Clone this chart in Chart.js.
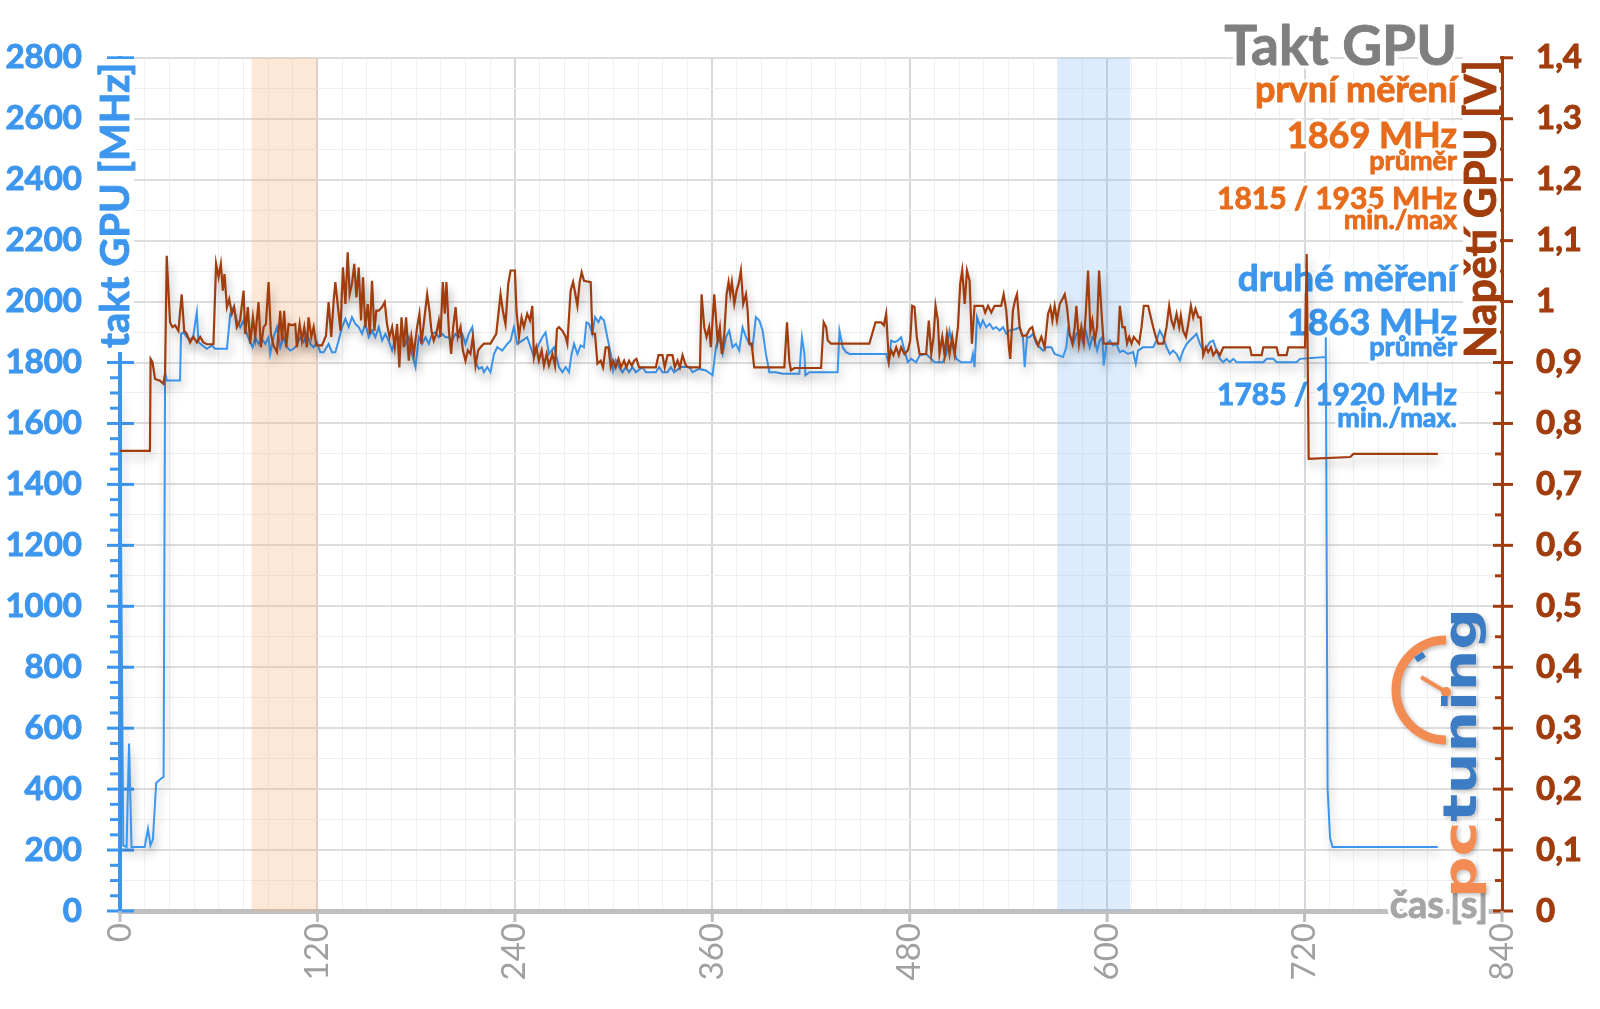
<!DOCTYPE html>
<html>
<head>
<meta charset="utf-8">
<script src="https://cdn.jsdelivr.net/npm/chart.js@4.4.1/dist/chart.umd.min.js"></script>
<style>
  html, body { margin: 0; padding: 0; background: #fff; }
</style>
</head>
<body>
<canvas id="gpuChart" width="1600" height="1009"></canvas>
<script>
// --- data ---
// takt GPU, druhé měření: [čas s, MHz]
const clockSeries = [
  [0,1710],[2,215],[4,210],[5.5,550],[7,210],[15,210],[17,270],[18.5,215],[20,235],[22,420],[25,435],[26.5,440],
  [27.4,1768],[28.4,1741],[36.5,1741],[37.1,1894],[38.6,1899],[40.6,1883],[42.6,1872],[44.6,1888],[46.7,1965],
  [47.7,1867],[50.1,1856],[52.8,1845],[55.8,1856],[57.8,1845],[65,1845],[67,1959],[69,1981],[71,1938],[73,1916],
  [75.1,1938],[77.1,1894],[79.1,1867],[80.6,1850],[82.2,1883],[84.2,1861],[86.2,1878],[88.3,1861],[90.3,1883],
  [91.3,1828],[93.3,1883],[95.4,1916],[97.4,1850],[99.4,1883],[101.5,1850],[103.5,1839],[105.5,1845],[107.5,1856],
  [109.6,1883],[111.6,1867],[113.6,1894],[115.7,1861],[117.7,1850],[119.7,1867],[121.7,1834],[123.8,1834],
  [126.8,1861],[128.8,1834],[130.9,1834],[132.9,1872],[135,1916],[137,1943],[139,1916],[141,1949],[143,1927],
  [145.1,1916],[147.1,1894],[149.1,1927],[151.2,1883],[153.2,1905],[155.2,1883],[157.3,1916],[159.3,1872],
  [161.3,1894],[163.3,1872],[165.4,1839],[167.4,1883],[169.4,1872],[171.5,1905],[173.5,1861],[175.5,1883],
  [177.5,1828],[179.6,1785],[181.6,1883],[183.6,1861],[185.7,1883],[187.7,1861],[189.7,1894],[191.7,1899],
  [193.8,1883],[195.8,1894],[197.8,1883],[199.9,1883],[201.9,1872],[203.9,1894],[206,1883],[208,1894],[210,1861],
  [212,1894],[214.1,1916],[215.7,1807],[218.1,1779],[220.1,1785],[221.2,1768],[223.2,1785],[225.2,1768],
  [227.3,1828],[229.3,1850],[232.3,1839],[235.4,1861],[237.4,1872],[239.4,1916],[241.5,1861],[244.5,1872],
  [247.5,1883],[249.6,1850],[251.6,1818],[254.6,1861],[256.7,1883],[258.7,1899],[260.7,1828],[263.8,1850],
  [265.8,1807],[266.8,1785],[268.9,1768],[270.9,1785],[272.9,1768],[274.5,1828],[276,1861],[278,1828],[280,1856],
  [282,1850],[283.5,1932],[285.1,1927],[287.1,1894],[288.7,1949],[290.8,1932],[292.2,1949],[294.2,1938],
  [296.2,1883],[298.3,1828],[299.7,1774],[301.3,1807],[303.4,1785],[305.4,1768],[307.4,1785],[309.4,1768],
  [311.5,1785],[313.5,1768],[317.6,1785],[319.6,1768],[325.7,1768],[327.7,1785],[329.7,1768],[332.8,1768],
  [334.8,1785],[336.8,1768],[340.9,1785],[346,1785],[348,1768],[352,1779],[356.1,1774],[360.2,1758],[362.2,1850],
  [364.2,1883],[366.3,1828],[368.3,1883],[370.3,1905],[372.3,1850],[374.4,1861],[376.4,1839],[378.4,1916],
  [380.5,1883],[382.5,1861],[384.5,1850],[386.5,1949],[388.6,1938],[390.6,1905],[392.6,1828],[394.7,1768],
  [398.7,1768],[402.8,1763],[412.9,1763],[414.5,1883],[416,1828],[416.6,1758],[419,1768],[436.2,1768],
  [437.3,1905],[439.3,1850],[441.3,1834],[443.4,1828],[465.7,1828],[467.3,1796],[468.7,1872],[470.7,1867],
  [472.8,1872],[474.8,1883],[476.8,1839],[478.9,1801],[480.9,1812],[483.9,1801],[486,1823],[490,1828],
  [493.1,1812],[495.1,1801],[500.2,1801],[502.2,1828],[504.2,1905],[506.3,1850],[508.3,1812],[511.3,1801],
  [517.4,1801],[518.4,1828],[519.4,1785],[520.9,1949],[522.9,1916],[524.5,1938],[526.5,1916],[528.6,1927],
  [530.6,1910],[532.6,1916],[534.6,1905],[536.7,1916],[538.7,1894],[540.7,1905],[544.8,1910],[546.8,1916],
  [548.8,1883],[549.9,1785],[551.3,1883],[552.9,1883],[554.9,1894],[557,1861],[559,1850],[561,1839],[563,1850],
  [566.1,1850],[568.1,1828],[573.2,1818],[575.2,1850],[576.2,1905],[577.6,1883],[579.3,1861],[581.3,1894],
  [583.3,1905],[585,1872],[586.4,1916],[587.8,1883],[589.4,1850],[591,1883],[592.5,1872],[593.9,1839],
  [595.5,1872],[597.1,1883],[597.9,1790],[599.6,1861],[601.6,1872],[603.6,1856],[605.6,1861],[607.7,1834],
  [609.7,1839],[612.7,1828],[615.8,1834],[617.4,1796],[618.8,1839],[621.9,1850],[628,1850],[630,1872],
  [632,1905],[634.1,1883],[636.1,1850],[638.1,1828],[640.1,1839],[642.2,1828],[644.2,1807],[646.2,1839],
  [648.3,1861],[650.3,1872],[652.3,1883],[654.3,1894],[656.4,1861],[658.4,1839],[660.4,1850],[662.5,1867],
  [664.5,1872],[666.5,1839],[668.5,1812],[670.6,1801],[672.6,1812],[674.6,1801],[676.7,1812],[678.7,1801],
  [694.9,1801],[697,1812],[701,1812],[703,1801],[715.2,1801],[717.2,1812],[732.5,1818],[732.9,1883],
  [734,400],[735.5,240],[737,210],[801,210]
];

// napětí GPU: [čas s, V]
const voltSeries = [
  [0,0.755],[18.2,0.755],[18.6,0.906],[19.7,0.901],[21.3,0.873],[24.3,0.870],[26.4,0.865],[27.4,0.882],
  [28.4,1.075],[30.4,0.966],[31.9,0.958],[33.5,0.961],[35.5,0.952],[37.5,1.012],[39,0.952],[40.6,0.947],
  [42.6,0.933],[44.6,0.942],[46.7,0.933],[48.7,0.942],[50.7,0.933],[52.8,0.930],[56.8,0.930],[58.4,1.062],
  [59.9,1.040],[61.3,1.062],[62.5,1.018],[63.5,1.045],[65,0.991],[66.4,1.004],[68,0.980],[69.4,0.991],
  [71,0.958],[73,0.969],[75.1,1.018],[76.1,0.947],[77.7,0.991],[79.1,0.931],[80.8,0.974],[82.2,0.942],
  [84.2,0.999],[85.6,0.925],[87.3,0.958],[88.7,0.963],[90.3,1.032],[91.7,0.947],[93.3,0.928],[95.4,0.917],
  [97.4,0.985],[98.4,0.936],[99.8,0.985],[101,0.925],[102.5,0.963],[104.5,0.961],[106.5,0.963],[107.5,0.925],
  [109.2,0.963],[110.6,0.936],[112,0.958],[113.6,0.925],[114.6,0.974],[116.3,0.942],[117.7,0.958],[119.3,0.928],
  [122.8,0.928],[125.2,0.944],[126.8,0.999],[128.4,0.942],[129.9,1.002],[130.9,1.032],[132.5,0.991],[134,0.952],
  [135.5,1.056],[137,0.996],[138.4,1.081],[139.6,1.012],[141,1.029],[142.4,1.062],[143.7,1.007],[145.1,1.056],
  [146.5,0.969],[147.7,1.040],[149.1,0.958],[150.6,0.996],[151.8,0.947],[153.2,1.034],[154.6,0.952],
  [155.8,0.985],[157.3,0.985],[159.3,0.991],[160.9,0.999],[162.3,0.963],[163.8,0.942],[165.4,0.958],
  [167,0.925],[168.4,0.963],[169.8,0.892],[171.1,0.974],[172.5,0.925],[173.9,0.974],[175.5,0.903],
  [177.1,0.942],[178.6,0.914],[180.6,0.958],[182,0.980],[183.2,0.931],[184.6,0.963],[186.7,1.012],
  [188.1,0.985],[189.3,0.952],[190.7,0.936],[192.2,0.947],[193.8,0.969],[194.8,0.942],[196.2,1.032],
  [197.4,0.980],[198.4,1.032],[199.9,0.952],[201.3,0.914],[202.5,0.958],[204,0.991],[205.3,0.942],[207,0.958],
  [208.4,0.920],[210,0.903],[211.4,0.920],[213,0.914],[214.5,0.942],[216.1,0.895],[217.7,0.920],[219.1,0.925],
  [221.2,0.931],[225.2,0.931],[228.7,0.947],[231.3,1.012],[232.7,0.985],[234.3,0.963],[236,1.029],[237.4,1.051],
  [240,1.051],[241,0.985],[242.5,0.942],[244.1,0.974],[245.5,0.958],[247.5,0.980],[249.2,0.969],[250.6,0.993],
  [251.6,0.909],[253,0.925],[254.6,0.903],[256.3,0.920],[257.7,0.895],[259.3,0.914],[260.7,0.895],[262.8,0.914],
  [264.4,0.895],[265.6,0.955],[266.8,0.958],[268.9,0.952],[270.9,0.942],[271.9,0.931],[273.9,1.018],
  [275.4,1.032],[276.6,1.015],[278,0.993],[279.4,1.032],[280.6,1.048],[282,1.034],[286.1,1.032],[287.1,0.947],
  [288.7,0.947],[290.2,0.898],[292.2,0.903],[293.6,0.892],[295.2,0.925],[296.9,0.925],[298.3,0.892],
  [299.7,0.903],[301.3,0.892],[303,0.906],[304.4,0.892],[306.4,0.903],[307.8,0.892],[309.4,0.903],[311.1,0.895],
  [312.5,0.903],[313.9,0.906],[315.5,0.892],[325.7,0.892],[327.3,0.912],[329.7,0.912],[331.1,0.892],
  [332.8,0.912],[335.8,0.912],[337.2,0.892],[338.9,0.903],[340.3,0.892],[341.9,0.912],[343.9,0.895],
  [345.6,0.892],[352.5,0.892],[353.5,1.012],[355.1,0.958],[356.5,0.942],[358.1,0.958],[359.1,0.925],
  [361.2,1.012],[363.2,0.936],[364.6,0.958],[365.8,0.914],[367.3,0.947],[368.7,1.012],[369.9,1.032],
  [370.9,1.012],[371.9,1.032],[373.4,0.996],[374.8,1.018],[376,1.029],[377.4,1.051],[378.8,0.996],[380.5,1.012],
  [381.5,0.985],[382.5,0.931],[383.9,0.931],[385.5,0.892],[403.8,0.892],[405.4,0.966],[406.8,0.903],
  [407.8,0.887],[409.9,0.891],[426.1,0.891],[427.7,0.966],[429.2,0.958],[430.2,0.936],[432.2,0.931],
  [455.5,0.931],[459.2,0.966],[462.6,0.966],[464.3,0.961],[465.7,0.980],[467.3,0.903],[468.7,0.920],
  [470.1,0.912],[471.8,0.925],[473.4,0.912],[474.8,0.925],[476.8,0.914],[478.9,0.920],[480.3,0.936],
  [481.5,0.993],[482.9,0.991],[484.3,0.942],[486,0.914],[490,0.914],[491.6,0.969],[493.1,0.914],[494.5,0.942],
  [495.7,0.993],[497.1,0.969],[498.1,0.914],[499.8,0.942],[501.2,0.912],[502.6,0.947],[504.2,0.914],
  [505.8,0.942],[507.3,0.914],[509.3,0.958],[510.7,1.029],[511.9,1.051],[513.4,0.996],[514.8,1.051],
  [516.4,1.034],[517.8,0.931],[519.4,0.993],[524.5,0.993],[525.9,0.982],[527.6,0.993],[529.6,0.982],
  [531.6,0.993],[535.6,0.993],[537.1,1.012],[538.7,0.985],[540.3,0.925],[541.1,0.906],[542.7,0.985],
  [544.2,1.004],[545.2,1.012],[546.8,0.958],[548.4,0.944],[550.9,0.944],[552.9,0.955],[554.5,0.958],
  [555.9,0.942],[558,0.928],[560,0.942],[562,0.925],[564.1,0.980],[565.5,0.991],[566.7,0.969],[568.1,0.993],
  [569.5,0.969],[571.2,0.996],[572.8,1.004],[574.2,1.012],[575.6,0.991],[577.2,0.947],[578.9,0.931],
  [580.3,0.958],[581.3,0.993],[582.9,0.931],[584.3,0.958],[585.8,0.933],[587,0.980],[588.4,1.051],
  [589.8,0.952],[591,0.969],[592.5,0.936],[593.9,0.958],[595.1,1.051],[596.5,0.985],[597.9,0.931],
  [606.7,0.931],[607.7,0.993],[609.3,0.958],[610.7,0.958],[612.1,0.931],[613.4,0.942],[614.8,0.931],
  [616.2,0.942],[619.4,0.931],[620.9,0.958],[622.3,0.993],[624.9,0.993],[626.3,0.977],[628,0.958],[629.6,0.942],
  [631,0.931],[634.1,0.931],[636.1,0.958],[637.7,0.993],[639.1,0.969],[640.5,0.958],[642.2,0.980],[643.8,0.958],
  [644.8,0.977],[646.2,0.952],[647.9,0.942],[649.3,0.963],[650.9,0.993],[652.3,0.974],[653.7,0.988],
  [655.4,0.974],[656.8,0.974],[658.4,0.912],[660,0.925],[661.4,0.917],[663.1,0.925],[664.5,0.912],[666.5,0.920],
  [668.5,0.912],[670.6,0.925],[686.8,0.925],[687.8,0.912],[693.9,0.912],[694.9,0.925],[703,0.925],[704.1,0.912],
  [709.1,0.912],[710.1,0.925],[720.3,0.925],[721.3,1.078],[722.5,0.742],[747.7,0.745],[749.7,0.750],[801,0.750]
];

// vyznačené úseky měření [od, do] v sekundách
const firstBand = [80, 120];
const secondBand = [570, 614];

// popisky os
const timeLabels = [0, 120, 240, 360, 480, 600, 720, 840];
const clockLabels = [0, 200, 400, 600, 800, 1000, 1200, 1400, 1600, 1800, 2000, 2200, 2400, 2600, 2800];
const voltLabels = [0, 0.1, 0.2, 0.3, 0.4, 0.5, 0.6, 0.7, 0.8, 0.9, 1, 1.1, 1.2, 1.3, 1.4];

// texty vpravo nahoře
const titleText = 'Takt GPU';
const firstRunText = ['první měření', '1869 MHz', 'průměr', '1815 / 1935 MHz', 'min./max'];
const secondRunText = ['druhé měření', '1863 MHz', 'průměr', '1785 / 1920 MHz', 'min./max.'];

const BLUE = '#3c96ee';
const BROWN = '#a13c0c';
const ORANGE = '#e66c1c';
const FONT = 'Lato, "Open Sans", sans-serif';

function haloText(ctx, text, x, y, font, color, halo) {
    ctx.font = font;
    ctx.lineJoin = 'round';
    ctx.strokeStyle = '#fff';
    ctx.lineWidth = halo;
    ctx.strokeText(text, x, y);
    ctx.fillStyle = color;
    ctx.fillText(text, x, y);
    // a thin same-colour stroke to get the heavier look of the original
    ctx.strokeStyle = color;
    ctx.lineWidth = 0.9;
    ctx.strokeText(text, x, y);
}

const decorPlugin = {
    id: 'decor',
    beforeDatasetsDraw(chart) {
        const ctx = chart.ctx;
        const area = chart.chartArea;
        const xs = chart.scales.x;
        const yc = chart.scales.clock;
        const yv = chart.scales.volt;

        ctx.save();
        // shaded measurement windows
        ctx.fillStyle = 'rgba(250, 175, 120, 0.3)';
        ctx.fillRect(xs.getPixelForValue(firstBand[0]), area.top,
            xs.getPixelForValue(firstBand[1]) - xs.getPixelForValue(firstBand[0]), area.bottom - area.top);
        ctx.fillStyle = 'rgba(130, 185, 245, 0.28)';
        ctx.fillRect(xs.getPixelForValue(secondBand[0]), area.top,
            xs.getPixelForValue(secondBand[1]) - xs.getPixelForValue(secondBand[0]), area.bottom - area.top);

        // tick marks on the axes
        ctx.lineWidth = 3;
        ctx.strokeStyle = BLUE;
        for (let v = 0; v <= 2800; v += 50) {
            const y = yc.getPixelForValue(v);
            ctx.beginPath();
            if (v % 200 === 0) { ctx.moveTo(107, y); ctx.lineTo(134, y); }
            else { ctx.moveTo(110, y); ctx.lineTo(120, y); }
            ctx.stroke();
        }
        ctx.strokeStyle = BROWN;
        for (let i = 0; i <= 28; i++) {
            const y = yv.getPixelForValue(i * 0.05);
            ctx.beginPath();
            if (i % 2 === 0) { ctx.moveTo(area.right - 9, y); ctx.lineTo(area.right + 11, y); }
            else { ctx.moveTo(area.right - 7, y); ctx.lineTo(area.right, y); }
            ctx.stroke();
        }
        ctx.strokeStyle = '#bfbfbf';
        timeLabels.forEach(t => {
            const x = xs.getPixelForValue(t);
            ctx.beginPath(); ctx.moveTo(x, area.bottom); ctx.lineTo(x, area.bottom + 11); ctx.stroke();
        });

        // axis titles on white boxes
        ctx.fillStyle = '#fff';
        ctx.fillRect(96, 59, 38, 293);
        ctx.fillRect(1463, 56, 37, 305);
        ctx.textBaseline = 'middle';
        ctx.textAlign = 'left';
        ctx.save();
        ctx.translate(116, 348);
        ctx.rotate(-Math.PI / 2);
        ctx.font = 'bold 40px ' + FONT;
        ctx.fillStyle = BLUE;
        ctx.fillText('takt GPU [MHz]', 0, 0);
        ctx.strokeStyle = BLUE; ctx.lineWidth = 0.9;
        ctx.strokeText('takt GPU [MHz]', 0, 0);
        ctx.restore();
        ctx.save();
        ctx.translate(1482, 358);
        ctx.rotate(-Math.PI / 2);
        ctx.font = 'bold 43px ' + FONT;
        ctx.fillStyle = BROWN;
        ctx.fillText('Napětí GPU [V]', 0, 0);
        ctx.strokeStyle = BROWN; ctx.lineWidth = 0.9;
        ctx.strokeText('Napětí GPU [V]', 0, 0);
        ctx.restore();

        // stats block
        ctx.textBaseline = 'alphabetic';
        ctx.textAlign = 'right';
        const rx = 1457;
        haloText(ctx, titleText, rx, 65, 'bold 55px ' + FONT, '#7f7f7f', 8);
        const firstSizes = [36, 36, 27, 30, 27];
        const secondSizes = [37, 36, 27, 30, 27];
        const firstY = [102, 148, 170, 209, 229];
        const secondY = [291, 335, 356, 405, 427];
        firstRunText.forEach((t, i) => haloText(ctx, t, rx, firstY[i], 'bold ' + firstSizes[i] + 'px ' + FONT, ORANGE, 7));
        secondRunText.forEach((t, i) => haloText(ctx, t, rx, secondY[i], 'bold ' + secondSizes[i] + 'px ' + FONT, BLUE, 7));

        // x axis name
        ctx.textAlign = 'right';
        haloText(ctx, 'čas', 1444, 918, 'bold 38px ' + FONT, '#a6a6a6', 7);
        ctx.textAlign = 'left';
        haloText(ctx, '[s]', 1450, 918, 'bold 38px ' + FONT, '#a6a6a6', 7);

        // pctuning logo
        ctx.save();
        ctx.shadowColor = 'rgba(0,0,0,0.25)';
        ctx.shadowBlur = 4;
        ctx.shadowOffsetX = 2;
        ctx.shadowOffsetY = 2;
        ctx.lineCap = 'butt';
        ctx.strokeStyle = '#f28c52';
        ctx.lineWidth = 9;
        ctx.beginPath();
        ctx.arc(1446, 690, 50, Math.PI / 2, Math.PI * 1.5, false);
        ctx.stroke();
        ctx.lineWidth = 4;
        ctx.beginPath(); ctx.moveTo(1446, 692); ctx.lineTo(1421, 677); ctx.stroke();
        ctx.fillStyle = '#f28c52';
        ctx.beginPath(); ctx.arc(1446, 692, 5, 0, Math.PI * 2); ctx.fill();
        ctx.fillStyle = '#3b7cc4';
        ctx.save(); ctx.translate(1420, 657); ctx.rotate(-0.6); ctx.fillRect(-5, -3, 10, 6); ctx.restore();
        ctx.translate(1476, 898);
        ctx.rotate(-Math.PI / 2);
        ctx.font = 'bold 46px "DejaVu Sans"';
        ctx.textAlign = 'left';
        ctx.textBaseline = 'alphabetic';
        const wAll = ctx.measureText('pctuning').width;
        const wPc = ctx.measureText('pc').width;
        ctx.scale(290 / wAll, 1);
        ctx.fillStyle = '#f28c52';
        ctx.fillText('pc', 0, 0);
        ctx.fillStyle = '#3b7cc4';
        ctx.fillText('tuning', wPc, 0);
        ctx.restore();

        ctx.restore();
    },
    beforeDatasetDraw(chart) {
        const ctx = chart.ctx;
        ctx.save();
        ctx.shadowColor = 'rgba(0, 0, 0, 0.3)';
        ctx.shadowBlur = 10;
        ctx.shadowOffsetX = 2;
        ctx.shadowOffsetY = 6;
    },
    afterDatasetDraw(chart) {
        chart.ctx.restore();
    }
};

const ctx = document.getElementById('gpuChart').getContext('2d');
const gpuChart = new Chart(ctx, {
    type: 'line',
    data: {
        datasets: [
            {
                label: 'Napětí GPU',
                data: voltSeries.map(p => ({ x: p[0], y: p[1] })),
                yAxisID: 'volt',
                borderColor: BROWN,
                borderWidth: 2.2,
                pointRadius: 0,
                tension: 0,
                fill: false,
                order: 0
            },
            {
                label: 'takt GPU',
                data: clockSeries.map(p => ({ x: p[0], y: p[1] })),
                yAxisID: 'clock',
                borderColor: BLUE,
                borderWidth: 2,
                pointRadius: 0,
                tension: 0,
                fill: false,
                order: 1
            }
        ]
    },
    options: {
        responsive: false,
        animation: false,
        devicePixelRatio: 1,
        layout: { padding: { top: 53, left: 0, right: 0, bottom: 0 } },
        plugins: {
            legend: { display: false },
            tooltip: { enabled: false }
        },
        scales: {
            x: {
                type: 'linear',
                position: 'bottom',
                min: 0,
                max: 840,
                afterFit: s => { s.height = 98; },
                ticks: {
                    stepSize: 15,
                    autoSkip: false,
                    minRotation: 90,
                    maxRotation: 90,
                    padding: 12,
                    color: '#a0a0a0',
                    font: { family: FONT, size: 33 },
                    callback: v => timeLabels.includes(v) ? String(v) : ''
                },
                grid: {
                    drawTicks: false,
                    color: c => (c.tick && c.tick.value % 120 === 0) ? '#d5d8dd' : '#eef0f2',
                    lineWidth: c => (c.tick && c.tick.value % 120 === 0) ? 2 : 1
                },
                border: { color: '#bfbfbf', width: 5 }
            },
            clock: {
                type: 'linear',
                position: 'left',
                min: 0,
                max: 2800,
                afterFit: s => { s.width = 120; },
                ticks: {
                    stepSize: 100,
                    autoSkip: false,
                    padding: 38,
                    color: BLUE,
                    textStrokeColor: BLUE,
                    textStrokeWidth: 1,
                    font: { family: FONT, size: 33, weight: 'bold' },
                    callback: v => clockLabels.includes(v) ? String(v) : ''
                },
                grid: {
                    drawTicks: false,
                    color: c => (c.tick && c.tick.value % 200 === 0) ? '#dddddd' : '#efefef',
                    lineWidth: c => (c.tick && c.tick.value % 200 === 0) ? 2 : 1
                },
                border: { color: BLUE, width: 4 }
            },
            volt: {
                type: 'linear',
                position: 'right',
                min: 0,
                max: 1.4,
                afterFit: s => { s.width = 98; },
                ticks: {
                    stepSize: 0.1,
                    autoSkip: false,
                    padding: 34,
                    color: BROWN,
                    textStrokeColor: BROWN,
                    textStrokeWidth: 1,
                    font: { family: FONT, size: 33, weight: 'bold' },
                    callback: v => {
                        const hit = voltLabels.find(l => Math.abs(l - v) < 1e-6);
                        return hit === undefined ? '' : String(hit).replace('.', ',');
                    }
                },
                grid: { drawOnChartArea: false, drawTicks: false },
                border: { color: BROWN, width: 3 }
            }
        }
    },
    plugins: [decorPlugin]
});
</script>
</body>
</html>
